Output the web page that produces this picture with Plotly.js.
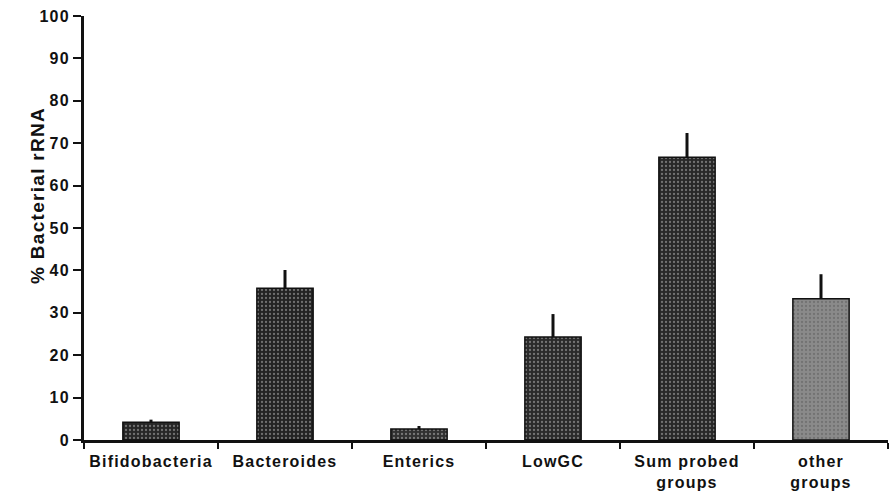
<!DOCTYPE html>
<html>
<head>
<meta charset="utf-8">
<script src="https://cdn.plot.ly/plotly-3.0.1.min.js"></script>
<style>
html,body{margin:0;padding:0;background:#fff;}
#chart{width:889px;height:493px;}
.xtick text, .ytick text {letter-spacing: 1.2px;}
.annotation-text {letter-spacing: 1.3px;}
</style>
</head>
<body>
<div id="chart"></div>
<script>
var categories = ["Bifidobacteria", "Bacteroides", "Enterics", "LowGC", "Sum probed<br>groups", "other<br>groups"];
var values = [4.2, 35.8, 2.6, 24.3, 66.7, 33.3];
var errorsUp = [0.6, 4.3, 0.7, 5.4, 5.7, 5.8];
var barColors = ["#262626", "#232323", "#303030", "#2a2a2a", "#282828", "#8a8a8a"];
var yTicks = [0, 10, 20, 30, 40, 50, 60, 70, 80, 90, 100];

var trace = {
  type: "bar",
  x: categories,
  y: values,
  width: 0.42,
  marker: {
    color: barColors,
    line: {color: "#111", width: 1.5},
    pattern: {shape: ".", fillmode: "overlay", size: 4, solidity: 0.25, fgcolor: "#6a6a6a", fgopacity: 0.35}
  },
  error_y: {
    type: "data",
    symmetric: false,
    array: errorsUp,
    arrayminus: values.map(function(){return 0;}),
    width: 0,
    thickness: 3,
    color: "#111"
  },
  hoverinfo: "none"
};

var layout = {
  width: 889,
  height: 493,
  margin: {l: 84, r: 1, t: 16, b: 53},
  paper_bgcolor: "#fff",
  plot_bgcolor: "#fff",
  showlegend: false,
  font: {family: "Liberation Sans, Arial, sans-serif", color: "#111"},
  xaxis: {
    type: "category",
    showline: true,
    linecolor: "#111",
    linewidth: 3,
    ticks: "outside",
    tickson: "boundaries",
    ticklen: 6,
    tickwidth: 2,
    tickcolor: "#111",
    ticklabelstandoff: 5,
    showgrid: false,
    zeroline: false,
    tickfont: {size: 16, family: "Liberation Sans, Arial, sans-serif", weight: "bold", color: "#111"},
    range: [-0.5, 5.5],
    fixedrange: true
  },
  yaxis: {
    range: [0, 100],
    tickvals: yTicks,
    ticktext: yTicks.map(String),
    showline: true,
    linecolor: "#111",
    linewidth: 3,
    ticks: "outside",
    ticklen: 8,
    tickwidth: 2,
    tickcolor: "#111",
    showgrid: false,
    zeroline: false,
    tickfont: {size: 16, family: "Liberation Sans, Arial, sans-serif", weight: "bold", color: "#111"},
    fixedrange: true
  },
  annotations: [{
    text: "% Bacterial rRNA",
    xref: "paper", yref: "paper",
    x: -0.057, y: 0.576,
    xanchor: "center", yanchor: "middle",
    textangle: -90,
    showarrow: false,
    font: {size: 19, family: "Liberation Sans, Arial, sans-serif", weight: "bold", color: "#111"}
  }]
};

Plotly.newPlot("chart", [trace], layout, {displayModeBar: false, staticPlot: true});
</script>
</body>
</html>
